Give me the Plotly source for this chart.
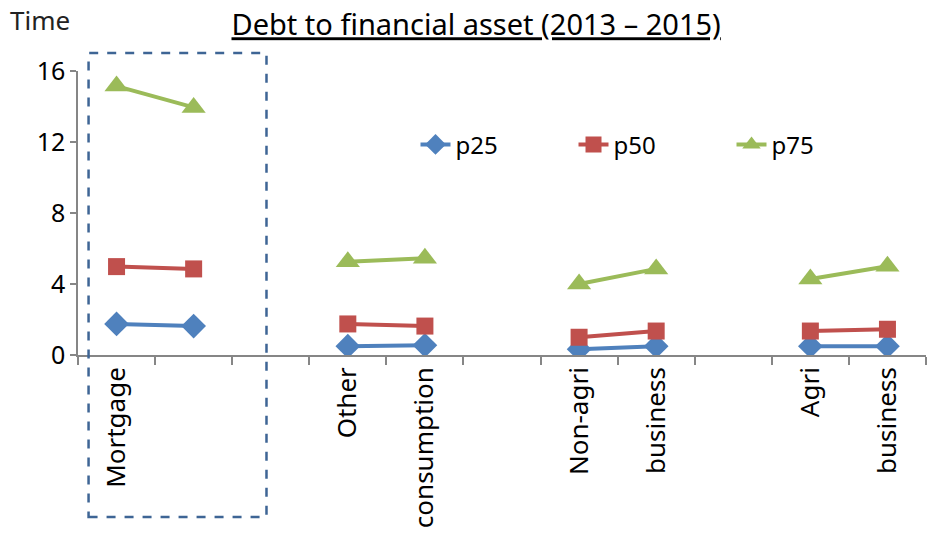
import plotly.graph_objects as go

categories = ["Mortgage", "", "", "Other", "consumption", "", "Non-agri", "business", "", "Agri", "business"]
p25 = [1.75, 1.63, None, 0.50, 0.55, None, 0.33, 0.50, None, 0.50, 0.50]
p50 = [4.98, 4.85, None, 1.75, 1.63, None, 1.00, 1.35, None, 1.35, 1.45]
p75 = [15.15, 13.95, None, 5.25, 5.45, None, 4.00, 4.85, None, 4.28, 5.00]
yticks = [0, 4, 8, 12, 16]

xpos = list(range(len(categories)))
FONT = "Noto Sans"

fig = go.Figure()
series = [
    ("p25", p25, "#4f81bd", "diamond", 19),
    ("p50", p50, "#c0504d", "square", 17),
    ("p75", p75, "#9bbb59", "triangle-up", 21),
]
for name, vals, color, sym, size in series:
    fig.add_trace(go.Scatter(
        x=xpos, y=vals, name=name, mode="lines+markers",
        line=dict(color=color, width=4),
        marker=dict(symbol=sym, size=size, color=color),
        connectgaps=False,
    ))

fig.update_layout(
    width=930, height=535,
    margin=dict(l=78, r=4, t=71, b=180, autoexpand=False),
    plot_bgcolor="white", paper_bgcolor="white",
    font=dict(family=FONT, size=23, color="#000000"),
    title=dict(text="<u>Debt to financial asset (2013 – 2015)</u>",
               x=0.512, xanchor="center", y=0.953, yanchor="middle",
               font=dict(family=FONT, size=29, color="#000000")),
    showlegend=True,
    legend=dict(orientation="h", x=0.398, xanchor="left", y=0.74, yanchor="middle",
                entrywidth=113, entrywidthmode="pixels",
                font=dict(family=FONT, size=24, color="#000000"),
                bgcolor="rgba(0,0,0,0)", itemsizing="trace"),
)
fig.update_xaxes(
    range=[-0.5, len(categories) - 0.5],
    tickmode="array", tickvals=xpos, ticktext=categories,
    tickangle=-90, ticks="", showgrid=False, zeroline=False,
    showline=True, linecolor="#868686", linewidth=1.5,
    tickfont=dict(family=FONT, size=26, color="#000000"),
    minor=dict(tick0=-0.5, dtick=1, ticks="outside", ticklen=8, tickcolor="#868686", tickwidth=1.5, showgrid=False),
)
fig.update_yaxes(
    range=[0, 16], tickmode="array", tickvals=yticks,
    ticks="outside", ticklen=6, tickcolor="#868686", tickwidth=1.5,
    showgrid=False, zeroline=False,
    showline=True, linecolor="#868686", linewidth=1.5,
    tickfont=dict(family=FONT, size=25, color="#000000"),
)

fig.add_annotation(text="Time", xref="paper", yref="paper", x=-0.082, y=1.18,
                   xanchor="left", yanchor="middle", showarrow=False,
                   font=dict(family=FONT, size=26, color="#222222"))

fig.add_shape(type="rect", xref="x", yref="paper",
              x0=-0.363, x1=1.945, y0=-0.570, y1=1.063,
              line=dict(color="#3e6595", width=2.5, dash="dash"),
              fillcolor="rgba(0,0,0,0)", layer="above")

fig.write_html("out.html")
